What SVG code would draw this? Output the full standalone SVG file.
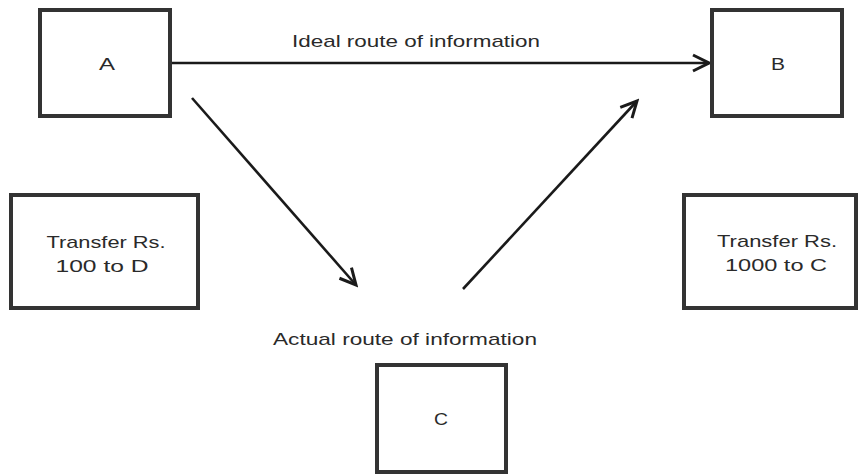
<svg xmlns="http://www.w3.org/2000/svg" width="861" height="475" viewBox="0 0 861 475">
<defs>
<style>
.box{fill:#fff;stroke:#333;stroke-width:4}
.lbl{font-family:"Liberation Sans",Arial,sans-serif;font-size:17px;fill:#2a2a2a;text-anchor:middle}
.conn{stroke:#1a1a1a;stroke-width:2.6;fill:none;marker-end:url(#arr)}
</style>
<marker id="arr" markerUnits="userSpaceOnUse" markerWidth="22" markerHeight="22" viewBox="0 0 22 22" refX="19" refY="11" orient="auto">
<path d="M3,3 L19,11 L3,19" fill="none" stroke="#1a1a1a" stroke-width="3" stroke-linejoin="miter"/>
</marker>
</defs>
<rect width="861" height="475" fill="#fff"/>
<g id="connectors">
<line class="conn" x1="172" y1="63" x2="709" y2="63"/>
<line class="conn" x1="192" y1="98" x2="356" y2="285"/>
<line class="conn" x1="463" y1="289" x2="637" y2="101"/>
</g>
<g id="labels">
<text class="lbl" x="416" y="47" textLength="248" lengthAdjust="spacingAndGlyphs">Ideal route of information</text>
<text class="lbl" x="405" y="345" textLength="264" lengthAdjust="spacingAndGlyphs">Actual route of information</text>
</g>
<g id="nodeA">
<rect class="box" x="40" y="10" width="130" height="106"/>
<text class="lbl" x="107" y="70" textLength="16" lengthAdjust="spacingAndGlyphs">A</text>
</g>
<g id="nodeB">
<rect class="box" x="712" y="10" width="130" height="106"/>
<text class="lbl" x="778" y="70" textLength="14" lengthAdjust="spacingAndGlyphs">B</text>
</g>
<g id="nodeD">
<rect class="box" x="11" y="195" width="187" height="113"/>
<text class="lbl" x="106" y="248" textLength="119" lengthAdjust="spacingAndGlyphs">Transfer Rs.</text>
<text class="lbl" x="102" y="272" textLength="93" lengthAdjust="spacingAndGlyphs">100 to D</text>
</g>
<g id="nodeE">
<rect class="box" x="684" y="195" width="172" height="113"/>
<text class="lbl" x="777" y="247" textLength="120" lengthAdjust="spacingAndGlyphs">Transfer Rs.</text>
<text class="lbl" x="776" y="271" textLength="102" lengthAdjust="spacingAndGlyphs">1000 to C</text>
</g>
<g id="nodeC">
<rect class="box" x="377" y="365" width="129" height="107"/>
<text class="lbl" x="441" y="425" textLength="14" lengthAdjust="spacingAndGlyphs">C</text>
</g>
</svg>
